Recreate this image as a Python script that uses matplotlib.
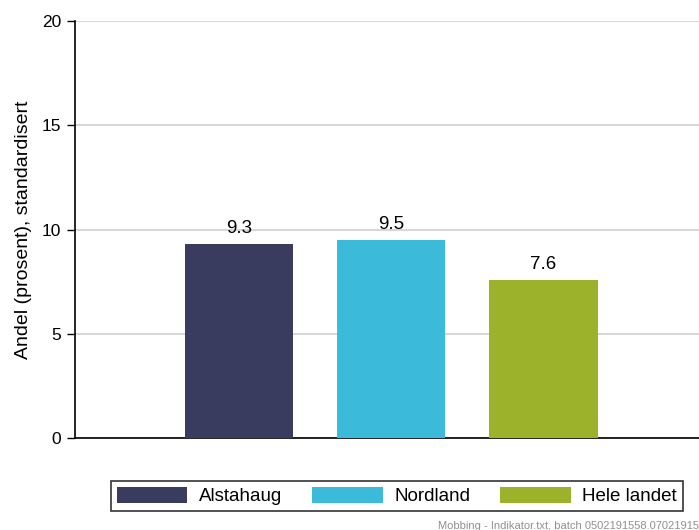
import matplotlib.pyplot as plt
from matplotlib.patches import Patch

plt.rcParams['font.family'] = ['Liberation Sans', 'DejaVu Sans']

# data
categories = ['Alstahaug', 'Nordland', 'Hele landet']
values = [9.3, 9.5, 7.6]
colors = ['#3a3c5f', '#3bbbd9', '#9cb22b']
yticks = [0, 5, 10, 15, 20]

fig = plt.figure(figsize=(6.99, 5.30), dpi=100)
ax = fig.add_axes([75 / 699, (530 - 438) / 530, (699 - 75) / 699, (438 - 21) / 530])

x = range(len(categories))
bars = ax.bar(x, values, width=0.71, color=colors, zorder=3)
for b, v in zip(bars, values):
    ax.annotate(f'{v}', (b.get_x() + b.get_width() / 2, v), xytext=(0, 5),
                textcoords='offset points', ha='center', va='bottom', fontsize=13.5)

ax.set_xlim(-1.075, 3.02)
ax.set_ylim(0, 20)
ax.set_yticks(yticks)
ax.set_xticks([])
ax.tick_params(axis='y', labelsize=12.5, length=6, width=1, pad=4)
ax.yaxis.grid(True, color='#d0d0d0', linewidth=1.2, zorder=0)
ax.set_axisbelow(True)
for s in ['top', 'right']:
    ax.spines[s].set_visible(False)
ax.spines['left'].set_linewidth(1.2)
ax.spines['bottom'].set_linewidth(1.2)
ax.set_ylabel('Andel (prosent), standardisert', fontsize=14, labelpad=7)

# legend under the plot
handles = [Patch(facecolor=c) for c in colors]
leg = fig.legend(handles, categories, loc='center', bbox_to_anchor=(397 / 699, 1 - 496 / 530),
                 ncol=3, fontsize=13.5, frameon=True, fancybox=False, edgecolor='black',
                 handlelength=3.75, handleheight=0.95, columnspacing=1.6, handletextpad=0.62,
                 borderpad=0.33, borderaxespad=0)
leg.get_frame().set_linewidth(1.2)

fig.text(438 / 699, 1 - 526 / 530, 'Mobbing - Indikator.txt, batch 0502191558.07021915',
         fontsize=8, color='#909090', ha='left', va='center')

fig.savefig('out.png', dpi=100)
